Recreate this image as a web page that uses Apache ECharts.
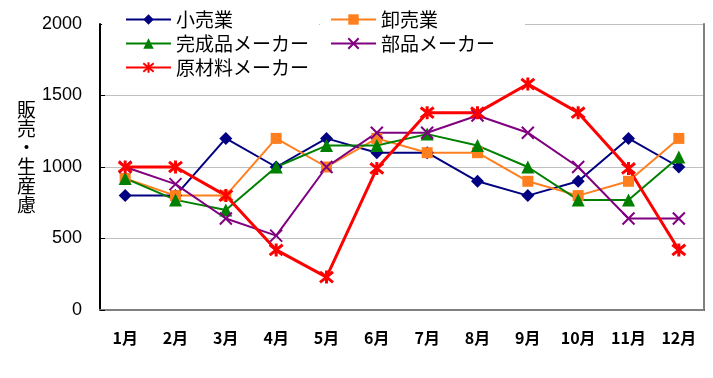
<!DOCTYPE html>
<html><head><meta charset="utf-8">
<script src="https://cdn.jsdelivr.net/npm/echarts@6/dist/echarts.min.js"></script>
<style>html,body{margin:0;padding:0;background:#fff}#c{width:713px;height:378px}</style>
</head><body><div id="c"></div>
<script>
const months = ['1月','2月','3月','4月','5月','6月','7月','8月','9月','10月','11月','12月'];
const yTicks = [0, 500, 1000, 1500, 2000];
const retail = [800, 800, 1200, 1000, 1200, 1100, 1100, 900, 800, 900, 1200, 1000];
const wholesale = [920, 800, 800, 1200, 1000, 1200, 1100, 1100, 900, 800, 900, 1200];
const finished = [920, 770, 700, 1000, 1150, 1150, 1230, 1150, 1000, 770, 770, 1070];
const parts = [1000, 880, 640, 520, 1000, 1240, 1240, 1360, 1240, 1000, 640, 640];
const materials = [1000, 1000, 800, 420, 230, 990, 1380, 1380, 1580, 1380, 990, 420];
const yName = ['販','売','・','生','産','慮'];

const CJK = "'Noto Sans CJK JP', sans-serif";
const crossPath = 'path://M0 0L10 10M10 0L0 10';
const asteriskPath = 'path://M0 1L10 9M10 1L0 9M5 0L5 10';

function mk(name, data, color, symbol, size, lw, stroke) {
  return {
    name, type: 'line', data, symbol, symbolSize: size,
    lineStyle: { color, width: lw },
    itemStyle: stroke ? { color: 'none', borderColor: color, borderWidth: lw } : { color, borderWidth: 0 },
    emphasis: { disabled: true }, animation: false, z: 3
  };
}

const chart = echarts.init(document.getElementById('c'));
chart.setOption({
  animation: false,
  grid: { left: 100, right: 9, top: 24, bottom: 68, containLabel: false },
  legend: [
    {
      data: ['小売業', '完成品メーカー', '原材料メーカー'],
      orient: 'vertical', left: 102, top: 6,
      padding: [4, 10, 4, 23],
      backgroundColor: '#fff',
      itemWidth: 45, itemHeight: 13, itemGap: 5,
      textStyle: { fontFamily: CJK, fontSize: 19, color: '#000', lineHeight: 19 },
      z: 10
    },
    {
      data: ['卸売業', '部品メーカー'],
      orient: 'vertical', left: 320, top: 6,
      padding: [4, 30, 4, 10],
      backgroundColor: '#fff',
      itemWidth: 45, itemHeight: 13, itemGap: 5,
      textStyle: { fontFamily: CJK, fontSize: 19, color: '#000', lineHeight: 19 },
      z: 10
    }
  ],
  xAxis: [
    {
      type: 'category', data: months, boundaryGap: true,
      axisLine: { lineStyle: { color: '#000', width: 2 } },
      axisTick: { inside: true, length: 5, lineStyle: { color: '#000', width: 1.5 } },
      axisLabel: { fontFamily: CJK, fontSize: 16, fontWeight: 'bold', color: '#000', margin: 20, interval: 0 },
      splitLine: { show: false }
    },
    {
      type: 'category', data: months, position: 'top',
      axisLine: { lineStyle: { color: '#808080', width: 2 } },
      axisTick: { show: false }, axisLabel: { show: false }, splitLine: { show: false }
    }
  ],
  yAxis: [
    {
      type: 'value', min: yTicks[0], max: yTicks[yTicks.length - 1], interval: 500,
      axisLine: { show: true, lineStyle: { color: '#000', width: 2 } },
      axisTick: { show: true, inside: true, length: 5, lineStyle: { color: '#000' } },
      axisLabel: { fontFamily: "'Liberation Sans', Arial, sans-serif", fontSize: 18, color: '#000', margin: 18,
                   formatter: v => String(v) },
      splitLine: { show: true, lineStyle: { color: '#c0c0c0', width: 1 } },
      name: yName.join('\n') + '\n ', nameLocation: 'middle', nameRotate: 0, nameGap: 62,
      nameTextStyle: { fontFamily: CJK, fontSize: 19, lineHeight: 19, color: '#000' }
    },
    {
      type: 'value', min: 0, max: 2000, interval: 500, position: 'right',
      axisLine: { show: true, lineStyle: { color: '#808080', width: 2 } },
      axisTick: { show: false }, axisLabel: { show: false }, splitLine: { show: false }
    }
  ],
  series: [
    mk('小売業', retail, '#000080', 'diamond', 13, 2, false),
    mk('卸売業', wholesale, '#ff7f1e', 'rect', 11, 2, false),
    mk('完成品メーカー', finished, '#008000', 'triangle', 13, 2, false),
    mk('部品メーカー', parts, '#800080', crossPath, 12, 2, true),
    mk('原材料メーカー', materials, '#ff0000', asteriskPath, 13, 3, true)
  ]
});
</script></body></html>
